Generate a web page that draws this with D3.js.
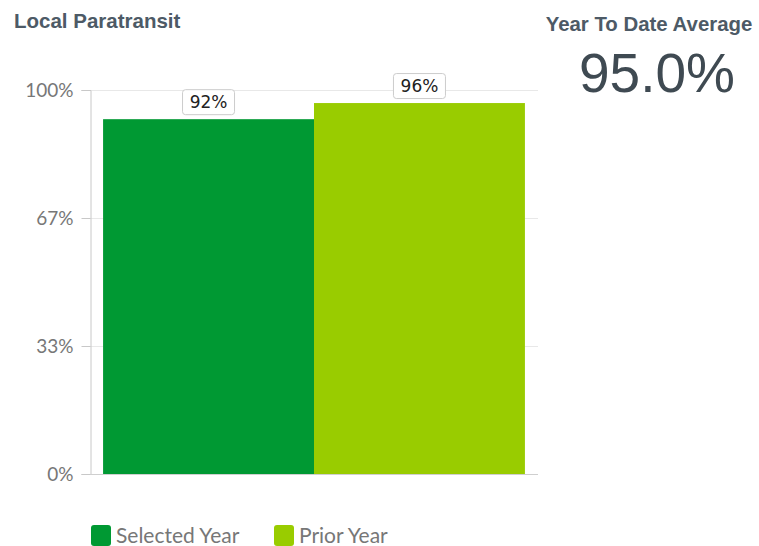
<!DOCTYPE html>
<html>
<head>
<meta charset="utf-8">
<script src="https://cdn.jsdelivr.net/npm/d3@7"></script>
<style>
  body { margin: 0; background: #fff; }
  svg { display: block; }
</style>
</head>
<body>
<script>
// chart data
var categories = ["Selected Year", "Prior Year"];
var values = [0.924, 0.966];
var barLabels = ["92%", "96%"];
var colors = ["#009933", "#99cc00"];
var tickValues = [0, 1/3, 2/3, 1];
var chartTitle = "Local Paratransit";
var ytdTitle = "Year To Date Average";
var ytdValue = "95.0%";

var width = 759, height = 546;
var margin = {left: 90, right: 221, top: 90, bottom: 72};

var svg = d3.select("body").append("svg")
  .attr("width", width)
  .attr("height", height);

var x = d3.scaleBand()
  .domain(categories)
  .range([margin.left, width - margin.right])
  .paddingInner(0)
  .paddingOuter(0.062);

var y = d3.scaleLinear()
  .domain([0, 1])
  .range([height - margin.bottom, margin.top]);

// gridlines
svg.append("g")
  .selectAll("line")
  .data(tickValues.slice(1))
  .enter().append("line")
  .attr("x1", margin.left)
  .attr("x2", width - margin.right)
  .attr("y1", function(d) { return Math.round(y(d)) + 0.5; })
  .attr("y2", function(d) { return Math.round(y(d)) + 0.5; })
  .attr("stroke", "#e8e8e8")
  .attr("stroke-width", 1);

// bars
svg.append("g")
  .selectAll("rect")
  .data(values)
  .enter().append("rect")
  .attr("x", function(d, i) { return x(categories[i]); })
  .attr("width", x.bandwidth())
  .attr("y", function(d) { return y(d); })
  .attr("height", function(d) { return y(0) - y(d); })
  .attr("fill", function(d, i) { return colors[i]; });

// y axis
var yAxis = d3.axisLeft(y)
  .tickValues(tickValues)
  .tickFormat(d3.format(".0%"))
  .tickSize(9)
  .tickPadding(8);

var ax = svg.append("g")
  .attr("transform", "translate(" + (margin.left + 0.5) + ",0)")
  .call(yAxis);
ax.select(".domain").attr("stroke", "#c8c8c8");
ax.selectAll(".tick line").attr("stroke", "#c8c8c8");
ax.selectAll(".tick text")
  .attr("fill", "#777")
  .style("font-family", "Lato, 'Open Sans', sans-serif")
  .style("font-size", "19px");

// bottom axis line
svg.append("line")
  .attr("x1", margin.left)
  .attr("x2", width - margin.right)
  .attr("y1", y(0) + 0.5)
  .attr("y2", y(0) + 0.5)
  .attr("stroke", "#cfcfcf");

// value labels
var lab = svg.append("g")
  .selectAll("g")
  .data(values)
  .enter().append("g")
  .attr("transform", function(d, i) {
    return "translate(" + (x(categories[i]) + x.bandwidth() / 2) + "," + (y(d) - 17) + ")";
  });
lab.append("rect")
  .attr("x", -26).attr("y", -12.5)
  .attr("width", 52).attr("height", 25)
  .attr("rx", 3)
  .attr("fill", "#fff")
  .attr("stroke", "#cccccc");
lab.append("text")
  .attr("text-anchor", "middle")
  .attr("dy", "0.36em")
  .attr("fill", "#222")
  .style("font-family", "'DejaVu Sans', sans-serif")
  .style("font-size", "17px")
  .text(function(d, i) { return barLabels[i]; });

// title
svg.append("text")
  .attr("x", 14).attr("y", 28)
  .attr("fill", "#4d5a66")
  .style("font-family", "'Liberation Sans', Arial, sans-serif")
  .style("font-weight", "bold")
  .style("font-size", "20.5px")
  .text(chartTitle);

// year to date
svg.append("text")
  .attr("x", 649).attr("y", 31)
  .attr("text-anchor", "middle")
  .attr("fill", "#4d5a66")
  .style("font-family", "'Liberation Sans', Arial, sans-serif")
  .style("font-weight", "bold")
  .style("font-size", "20.4px")
  .text(ytdTitle);
svg.append("text")
  .attr("x", 657).attr("y", 92)
  .attr("text-anchor", "middle")
  .attr("fill", "#3f4a52")
  .style("font-family", "'Liberation Sans', Arial, sans-serif")
  .style("font-size", "55px")
  .text(ytdValue);

// legend
var legX = [91, 274];
var leg = svg.append("g")
  .selectAll("g")
  .data(categories)
  .enter().append("g")
  .attr("transform", function(d, i) { return "translate(" + legX[i] + ",525)"; });
leg.append("rect")
  .attr("width", 20).attr("height", 21)
  .attr("rx", 3)
  .attr("fill", function(d, i) { return colors[i]; });
leg.append("text")
  .attr("x", 25).attr("y", 18)
  .attr("fill", "#777")
  .style("font-family", "Lato, 'Open Sans', sans-serif")
  .style("font-size", "21px")
  .text(function(d) { return d; });
</script>
</body>
</html>
